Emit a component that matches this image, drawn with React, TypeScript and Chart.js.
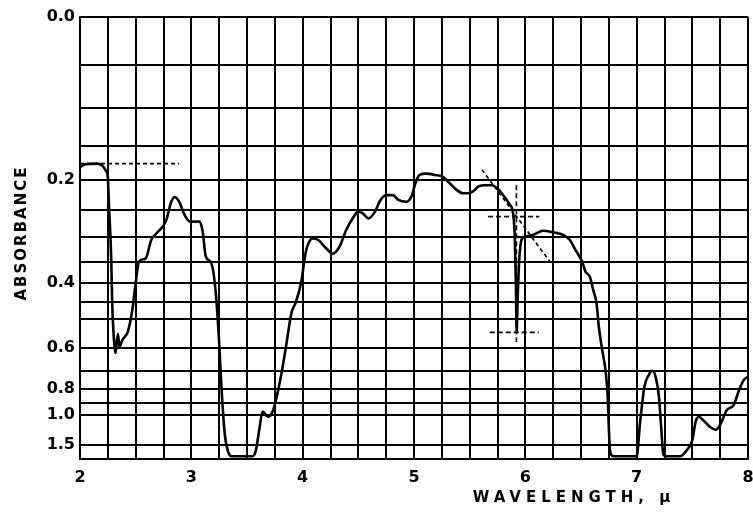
import { useEffect, useRef } from "react";
import { Chart, registerables } from "chart.js";

Chart.register(...registerables);

// ---- data (wavelength in microns, absorbance) ----
const WAVELENGTH = [
  2.0, 2.05, 2.15, 2.2, 2.23, 2.25, 2.26, 2.28, 2.29, 2.31, 2.32, 2.34, 2.355, 2.38, 2.43, 2.47, 2.5, 2.53, 2.59,
  2.64, 2.7, 2.77, 2.82, 2.85, 2.89, 2.94, 2.99, 3.07, 3.1, 3.13, 3.18, 3.22, 3.25, 3.27, 3.3, 3.33, 3.36, 3.55,
  3.58, 3.61, 3.64, 3.69, 3.73, 3.76, 3.81, 3.85, 3.9, 3.94, 3.99, 4.02, 4.04, 4.09, 4.14, 4.2, 4.27, 4.33, 4.39,
  4.45, 4.5, 4.54, 4.59, 4.65, 4.69, 4.75, 4.81, 4.86, 4.93, 4.98, 5.01, 5.05, 5.11, 5.19, 5.26, 5.32, 5.38, 5.44,
  5.49, 5.53, 5.58, 5.64, 5.7, 5.76, 5.82, 5.86, 5.89, 5.905, 5.915, 5.922, 5.93, 5.945, 5.965, 6.0, 6.07, 6.16,
  6.25, 6.34, 6.4, 6.45, 6.51, 6.54, 6.58, 6.61, 6.64, 6.66, 6.69, 6.72, 6.74, 6.75, 6.76, 6.79, 7.0, 7.03, 7.07,
  7.11, 7.14, 7.17, 7.2, 7.22, 7.24, 7.26, 7.39, 7.45, 7.5, 7.53, 7.56, 7.6, 7.66, 7.71, 7.75, 7.81, 7.87, 7.92,
  7.96, 8.0,
];
const ABSORBANCE = [
  0.18, 0.176, 0.175, 0.178, 0.185, 0.196, 0.24, 0.34, 0.46, 0.595, 0.62, 0.548, 0.595, 0.57, 0.54, 0.472, 0.4,
  0.35, 0.343, 0.305, 0.289, 0.27, 0.235, 0.227, 0.235, 0.258, 0.27, 0.27, 0.286, 0.339, 0.354, 0.426, 0.58,
  0.784, 1.24, 1.78, 2.2, 2.2, 1.7, 1.18, 0.97, 1.02, 0.97, 0.875, 0.712, 0.595, 0.48, 0.449, 0.393, 0.34, 0.319,
  0.302, 0.305, 0.319, 0.333, 0.319, 0.286, 0.264, 0.252, 0.255, 0.264, 0.252, 0.235, 0.224, 0.224, 0.232, 0.235,
  0.225, 0.206, 0.192, 0.19, 0.192, 0.195, 0.205, 0.215, 0.221, 0.221, 0.218, 0.21, 0.208, 0.208, 0.215, 0.229,
  0.24, 0.255, 0.298, 0.4, 0.54, 0.45, 0.347, 0.305, 0.298, 0.295, 0.287, 0.29, 0.295, 0.305, 0.325, 0.35, 0.373,
  0.385, 0.418, 0.454, 0.524, 0.607, 0.697, 0.85, 1.14, 1.7, 2.2, 2.2, 1.09, 0.785, 0.72, 0.7, 0.73, 0.85, 1.14,
  2.0, 2.2, 2.2, 1.7, 1.37, 1.07, 1.02, 1.06, 1.14, 1.18, 1.11, 0.955, 0.915, 0.807, 0.75, 0.73,
];

// dashed construction lines
const BASE_A_WL = [2.0, 2.89];
const BASE_A_ABS = [0.175, 0.175];
const PEAK_VERT_WL = [5.92, 5.92];
const PEAK_VERT_ABS = [0.208, 0.577];
const PEAK_TOP_WL = [5.665, 6.125];
const PEAK_TOP_ABS = [0.261, 0.261];
const PEAK_BOT_WL = [5.68, 6.12];
const PEAK_BOT_ABS = [0.543, 0.543];
const BASE_B_WL = [5.61, 6.22];
const BASE_B_ABS = [0.184, 0.35];

// axes
const GRID_ABSORBANCE = [1.5, 1.0, 0.9, 0.8, 0.7, 0.6, 0.5, 0.45, 0.4, 0.35, 0.3, 0.25, 0.2, 0.15, 0.1, 0.05, 0.0];
const LABELED_ABSORBANCE = [0.0, 0.2, 0.4, 0.6, 0.8, 1.0, 1.5];
const X_MIN = 2;
const X_MAX = 8;
const X_STEP = 0.25;
const X_TICK_LABELS = [2, 3, 4, 5, 6, 7, 8];
const Y_TITLE = "ABSORBANCE";
const X_TITLE = "WAVELENGTH, \u03bc";
const X_TITLE_CENTER_WL = 6.42;

const toT = (a: number) => Math.pow(10, -a);
const pts = (wl: number[], ab: number[]) => wl.map((w, i) => ({ x: w, y: toT(ab[i]) }));

const FONT = '"DejaVu Sans", "Liberation Sans", Arial, sans-serif';

const titlesPlugin = {
  id: "axisTitles",
  afterDraw(chart: any) {
    const { ctx, chartArea, scales } = chart;
    ctx.save();
    ctx.fillStyle = "#000";
    ctx.textAlign = "center";
    ctx.textBaseline = "middle";
    ctx.font = `bold 15px ${FONT}`;
    (ctx as any).letterSpacing = "2px";
    ctx.translate(22, (chartArea.top + chartArea.bottom) / 2 - 5);
    ctx.rotate(-Math.PI / 2);
    ctx.fillText(Y_TITLE, 0, 0);
    ctx.restore();

    ctx.save();
    ctx.fillStyle = "#000";
    ctx.textAlign = "center";
    ctx.textBaseline = "middle";
    ctx.font = `bold 15px ${FONT}`;
    (ctx as any).letterSpacing = "5px";
    const cx = scales.x.getPixelForValue(X_TITLE_CENTER_WL);
    ctx.fillText(X_TITLE, cx + 2, chartArea.bottom + 39);
    ctx.restore();
  },
};

export default function App() {
  const ref = useRef<HTMLCanvasElement | null>(null);
  useEffect(() => {
    document.body.style.margin = "0";
    const canvas = ref.current!;
    const dashed = (wl: number[], ab: number[], dash: number[]) => ({
      data: pts(wl, ab),
      borderColor: "#000",
      borderWidth: 1.6,
      borderDash: dash,
      pointRadius: 0,
      fill: false,
      tension: 0,
    });
    const chart = new Chart(canvas, {
      type: "line",
      data: {
        datasets: [
          {
            data: pts(WAVELENGTH, ABSORBANCE),
            borderColor: "#000",
            borderWidth: 2.6,
            pointRadius: 0,
            fill: false,
            cubicInterpolationMode: "monotone",
          },
          dashed(BASE_A_WL, BASE_A_ABS, [4, 3]),
          dashed(PEAK_VERT_WL, PEAK_VERT_ABS, [5, 3]),
          dashed(PEAK_TOP_WL, PEAK_TOP_ABS, [5, 3]),
          dashed(PEAK_BOT_WL, PEAK_BOT_ABS, [5, 3]),
          dashed(BASE_B_WL, BASE_B_ABS, [4, 3]),
        ],
      },
      options: {
        responsive: false,
        animation: false,
        events: [],
        layout: { padding: { top: 17, right: 5, left: 0, bottom: 0 } },
        plugins: { legend: { display: false }, tooltip: { enabled: false } },
        scales: {
          x: {
            type: "linear",
            min: X_MIN,
            max: X_MAX,
            afterFit: (s: any) => {
              s.height = 58;
              s.paddingRight = 0;
              s.paddingLeft = 0;
            },
            ticks: {
              stepSize: X_STEP,
              autoSkip: false,
              maxRotation: 0,
              padding: 9,
              color: "#000",
              font: { family: FONT, size: 16, weight: "bold" },
              callback: (v: any) => (X_TICK_LABELS.includes(Number(v)) ? String(v) : ""),
            },
            grid: { color: "#000", lineWidth: 2, drawTicks: false },
            border: { color: "#000", width: 2 },
          },
          y: {
            type: "linear",
            min: 0,
            max: 1,
            afterBuildTicks: (s: any) => {
              s.ticks = GRID_ABSORBANCE.map((a) => ({ value: toT(a), abs: a }));
            },
            afterFit: (s: any) => {
              s.width = 80;
            },
            ticks: {
              autoSkip: false,
              padding: 5,
              color: "#000",
              font: { family: FONT, size: 16, weight: "bold" },
              callback: (_v: any, i: number, ticks: any[]) => {
                const a = ticks[i].abs;
                return LABELED_ABSORBANCE.includes(a) ? a.toFixed(1) : "";
              },
            },
            grid: { color: "#000", lineWidth: 2, drawTicks: false },
            border: { color: "#000", width: 2 },
          },
        },
      },
      plugins: [titlesPlugin],
    } as any);
    return () => chart.destroy();
  }, []);
  return (
    <div style={{ width: 753, height: 517 }}>
      <canvas ref={ref} width={753} height={517} style={{ display: "block" }} />
    </div>
  );
}
